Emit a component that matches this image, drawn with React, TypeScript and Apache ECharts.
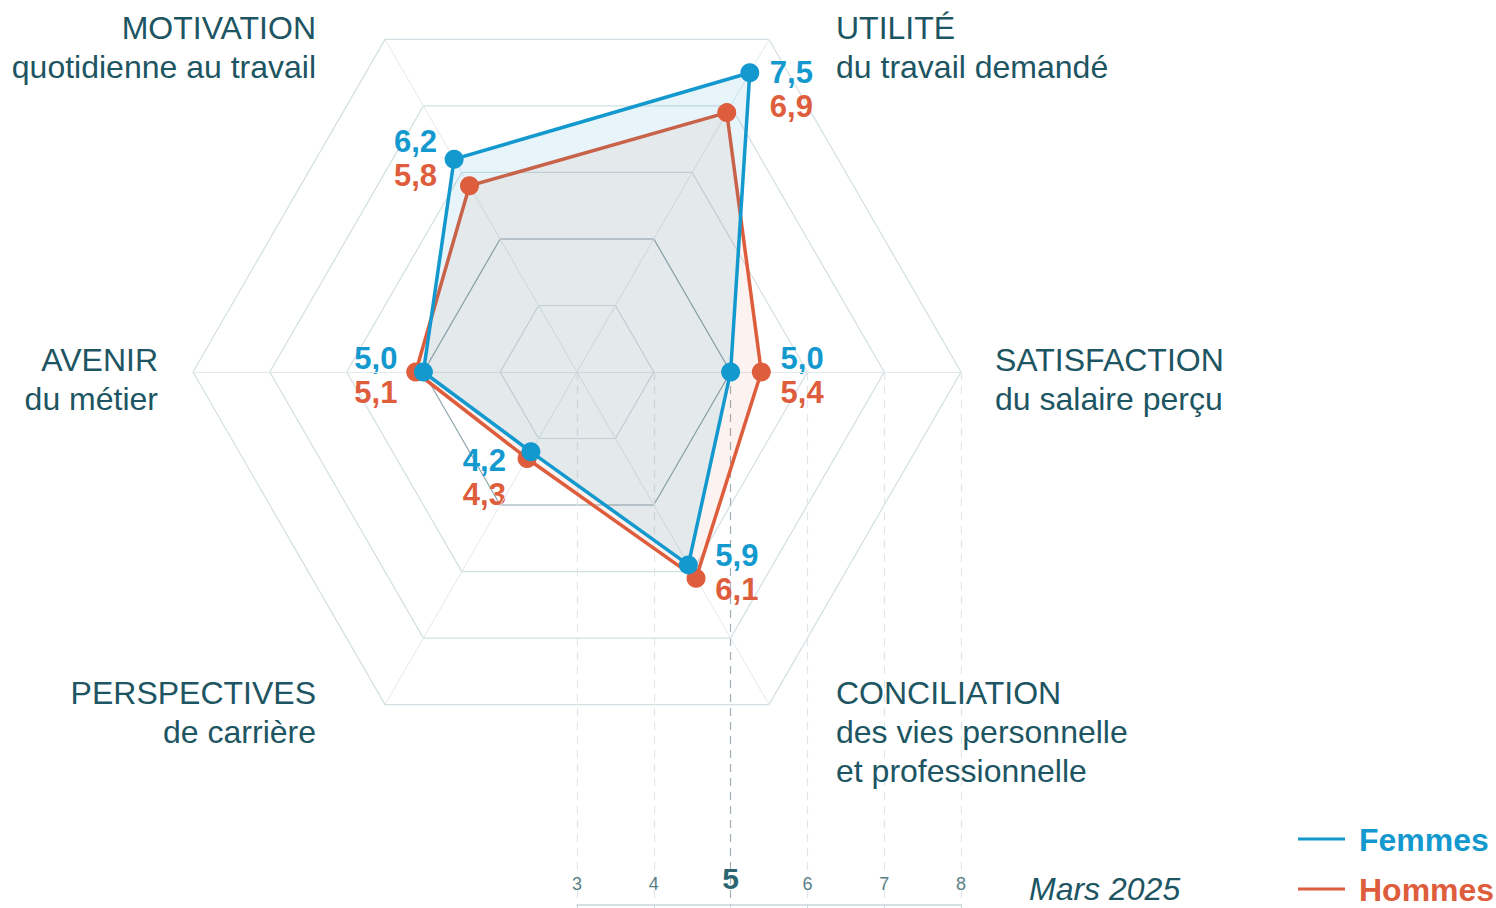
import React, { useEffect, useRef } from 'react';
import * as echarts from 'echarts';

// ---- data ----
const indicators = ['UTILITÉ', 'MOTIVATION', 'AVENIR', 'PERSPECTIVES', 'CONCILIATION', 'SATISFACTION'];
const subtitles = [
  'du travail demandé',
  'quotidienne au travail',
  'du métier',
  'de carrière',
  'des vies personnelle\net professionnelle',
  'du salaire perçu',
];
const femmes = [7.5, 6.2, 5.0, 4.2, 5.9, 5.0];
const hommes = [6.9, 5.8, 5.1, 4.3, 6.1, 5.4];
const scaleMin = 3;
const scaleMax = 8;
const highlightTick = 5;
const seriesNames = ['Femmes', 'Hommes'];
const period = 'Mars 2025';

// ---- layout / style ----
const BLUE = '#1499cf';
const ORANGE = '#de5d3c';
const TEXT = '#1d5562';
const FONT = '"Liberation Sans", Arial, sans-serif';
const CENTER: [number, number] = [577, 372];
const RADIUS = 384;
const START_ANGLE = 60;

const nameLayout = [
  { x: 836, y: 8, align: 'left' },
  { x: 316, y: 8, align: 'right' },
  { x: 158, y: 340, align: 'right' },
  { x: 316, y: 673, align: 'right' },
  { x: 836, y: 673, align: 'left' },
  { x: 995, y: 340, align: 'left' },
];
const valueLayout = [
  { dx: 20, dy: 0, align: 'left' },
  { dx: -17, dy: -18, align: 'right' },
  { dx: -26, dy: -14, align: 'right' },
  { dx: -25, dy: 9, align: 'right' },
  { dx: 27, dy: -9, align: 'left' },
  { dx: 50, dy: -14, align: 'left' },
];
const VALUE_GAP = 34;
const legendLayout = [
  { x: 1298, y: 839 },
  { x: 1298, y: 889 },
];

const fmt = (v: number) => v.toFixed(1).replace('.', ',');

function fallbackPoint(v: number, i: number): number[] {
  const ang = ((START_ANGLE + (360 / indicators.length) * i) * Math.PI) / 180;
  const r = ((v - scaleMin) / (scaleMax - scaleMin)) * RADIUS;
  return [CENTER[0] + r * Math.cos(ang), CENTER[1] - r * Math.sin(ang)];
}

export default function App() {
  const ref = useRef<HTMLDivElement>(null);
  useEffect(() => {
    if (!ref.current) return;
    const chart = echarts.init(ref.current, undefined, { renderer: 'svg' });
    const splitColors = [];
    for (let v = scaleMin; v <= scaleMax; v++) splitColors.push(v === highlightTick ? '#8ea4ab' : '#d3dfe2');
    const gridSplitColors = [];
    for (let v = scaleMin; v <= scaleMax; v++) gridSplitColors.push(v === highlightTick ? '#9fb1b6' : '#e1e7e9');
    const seriesColors = [BLUE, ORANGE];

    const option: any = {
      animation: false,
      radar: {
        center: CENTER,
        radius: RADIUS,
        startAngle: START_ANGLE,
        splitNumber: scaleMax - scaleMin,
        shape: 'polygon',
        indicator: indicators.map((n) => ({ name: n, min: scaleMin, max: scaleMax })),
        axisName: { show: false },
        axisLine: { lineStyle: { color: '#e2e9eb', width: 1 } },
        splitLine: { lineStyle: { color: splitColors, width: 1.2 } },
        splitArea: { show: false },
      },
      grid: { left: CENTER[0], width: RADIUS, top: CENTER[1], height: 905 - CENTER[1] },
      xAxis: {
        type: 'value',
        min: scaleMin,
        max: scaleMax,
        interval: 1,
        position: 'bottom',
        axisLine: { show: true, lineStyle: { color: '#c9d6d9', width: 1.5 } },
        axisTick: { show: true, length: 5, lineStyle: { color: '#c9d6d9' } },
        axisLabel: {
          inside: true,
          margin: 12,
          formatter: (v: number) => (v === highlightTick ? '{b|' + v + '}' : '{a|' + v + '}'),
          rich: {
            a: { fontSize: 18, color: '#5a8088', fontFamily: FONT },
            b: { fontSize: 30, fontWeight: 'bold', color: '#2b6570', fontFamily: FONT },
          },
        },
        splitLine: { show: true, lineStyle: { type: [8, 6], color: gridSplitColors, width: 1.2 } },
      },
      yAxis: { type: 'value', show: false },
      series: [
        {
          type: 'radar',
          symbol: 'circle',
          symbolSize: 19,
          z: 5,
          data: [
            {
              name: seriesNames[1],
              value: hommes,
              lineStyle: { color: ORANGE, width: 3.5 },
              itemStyle: { color: ORANGE },
              areaStyle: { color: 'rgba(222,93,60,0.12)' },
            },
            {
              name: seriesNames[0],
              value: femmes,
              lineStyle: { color: BLUE, width: 3.5 },
              itemStyle: { color: BLUE },
              areaStyle: { color: 'rgba(20,153,207,0.145)' },
            },
          ],
        },
      ],
    };
    chart.setOption(option);

    let cs: any = null;
    try {
      cs = (chart as any).getModel().getComponent('radar', 0).coordinateSystem;
    } catch (e) {
      cs = null;
    }
    const toPoint = (v: number, i: number): number[] => {
      try {
        if (cs && cs.dataToPoint) return cs.dataToPoint(v, i);
      } catch (e) {}
      return fallbackPoint(v, i);
    };

    const graphics: any[] = [];
    indicators.forEach((name, i) => {
      const nl = nameLayout[i];
      graphics.push({
        type: 'text',
        x: nl.x,
        y: nl.y,
        style: {
          text: name + '\n' + subtitles[i],
          fontSize: 32,
          fontFamily: FONT,
          fill: TEXT,
          align: nl.align,
          verticalAlign: 'top',
          lineHeight: 39,
        },
      });
      const p = toPoint(femmes[i], i);
      const vl = valueLayout[i];
      graphics.push({
        type: 'text',
        x: p[0] + vl.dx,
        y: p[1] + vl.dy,
        style: {
          text: fmt(femmes[i]),
          fontSize: 31,
          fontWeight: 'bold',
          fontFamily: FONT,
          fill: BLUE,
          align: vl.align,
          verticalAlign: 'middle',
        },
      });
      graphics.push({
        type: 'text',
        x: p[0] + vl.dx,
        y: p[1] + vl.dy + VALUE_GAP,
        style: {
          text: fmt(hommes[i]),
          fontSize: 31,
          fontWeight: 'bold',
          fontFamily: FONT,
          fill: ORANGE,
          align: vl.align,
          verticalAlign: 'middle',
        },
      });
    });
    // legend
    seriesNames.forEach((n, i) => {
      const l = legendLayout[i];
      graphics.push({
        type: 'line',
        shape: { x1: l.x, y1: l.y, x2: l.x + 47, y2: l.y },
        style: { stroke: seriesColors[i], lineWidth: 3 },
      });
      graphics.push({
        type: 'text',
        x: l.x + 61,
        y: l.y + 1,
        style: {
          text: n,
          fontSize: 32,
          fontWeight: 'bold',
          fontFamily: FONT,
          fill: seriesColors[i],
          align: 'left',
          verticalAlign: 'middle',
        },
      });
    });
    graphics.push({
      type: 'text',
      x: 1029,
      y: 889,
      style: {
        text: period,
        fontSize: 32,
        fontStyle: 'italic',
        fontFamily: FONT,
        fill: TEXT,
        align: 'left',
        verticalAlign: 'middle',
      },
    });
    chart.setOption({ graphic: graphics });

    return () => chart.dispose();
  }, []);
  return (
    <div style={{ position: 'fixed', left: 0, top: 0, width: 1496, height: 908, background: '#fff' }}>
      <div ref={ref} style={{ width: 1496, height: 908 }} />
    </div>
  );
}
